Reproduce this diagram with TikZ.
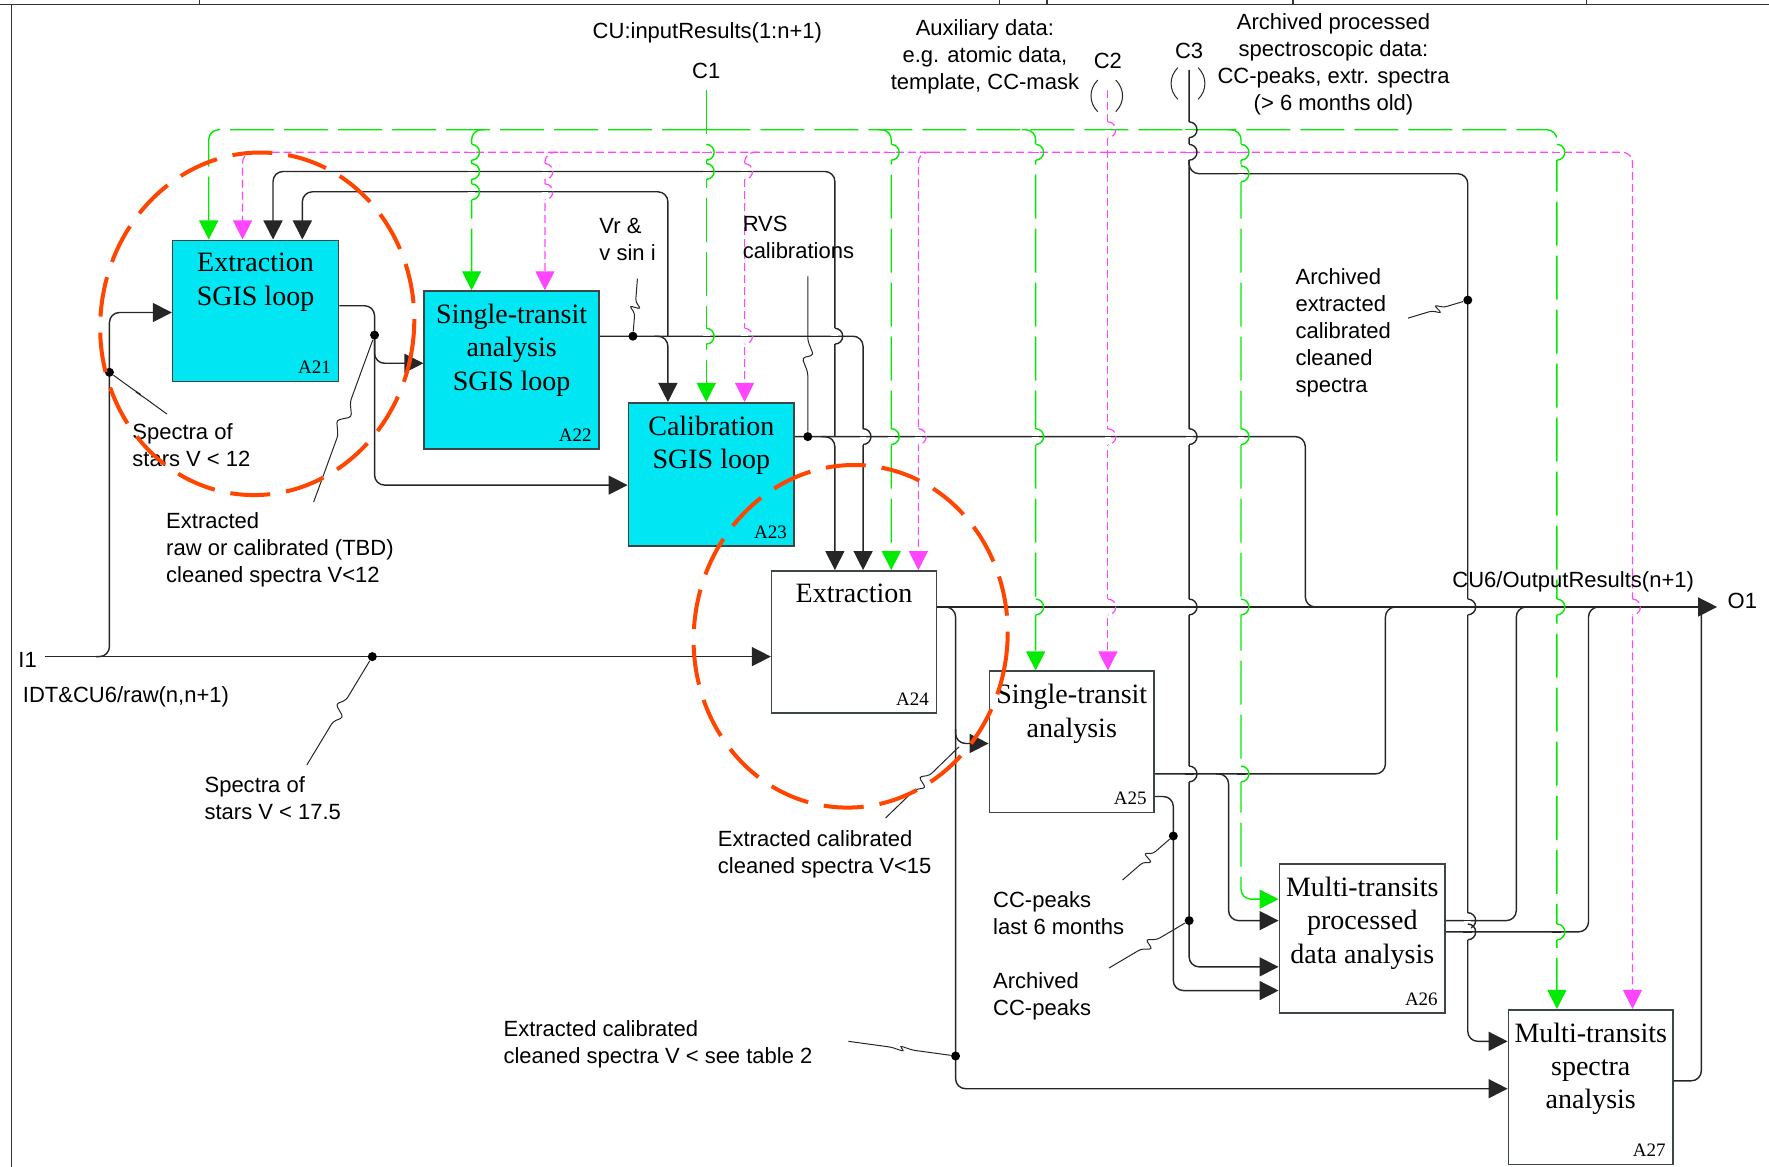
\documentclass[tikz,border=0pt]{standalone}
\usepackage{fontspec}
\setmainfont{Liberation Serif}
\setsansfont{Liberation Sans}
\usetikzlibrary{arrows.meta,calc,fit}
\definecolor{boxcyan}{RGB}{0,230,242}
\definecolor{ctlgreen}{RGB}{0,235,0}
\definecolor{ctlmag}{RGB}{255,70,255}
\definecolor{ringred}{RGB}{255,69,0}
\definecolor{boxedge}{RGB}{60,70,70}
\tikzset{
  % frame and boxes
  frame/.style    = {draw=black!80, line width=0.6pt},
  actbox/.style   = {draw=boxedge, line width=0.8pt, inner sep=0pt},
  sgisbox/.style  = {actbox, fill=boxcyan},
  plainbox/.style = {actbox, fill=white},
  boxtxt/.style   = {font=\fontsize{14}{16.6}\selectfont, align=center, anchor=north, inner sep=0pt},
  boxid/.style    = {font=\fontsize{9.5}{11}\selectfont, anchor=south east, inner sep=0pt},
  % connectors
  flow/.style     = {draw=black!85, line width=0.7pt, rounded corners=5pt},
  ctlg/.style     = {draw=ctlgreen, line width=0.7pt, dash pattern=on 22pt off 5pt, rounded corners=5pt},
  ctlm/.style     = {draw=ctlmag, line width=0.6pt, dash pattern=on 4pt off 2pt, rounded corners=5pt},
  tip/.style      = {-{Triangle[length=9.5pt,width=9.5pt]}},
  callout/.style  = {draw=black!85, line width=0.5pt, rounded corners=1.5pt},
  dotpt/.style    = {circle, fill=black, inner sep=0pt, minimum size=4.5pt},
  % labels
  lab/.style      = {font=\sffamily\fontsize{11}{13.5}\selectfont, align=left, anchor=north west, inner sep=0pt},
  labc/.style     = {font=\sffamily\fontsize{11}{13.5}\selectfont, align=center, anchor=north, inner sep=0pt},
  ring/.style     = {draw=ringred, line width=2pt, dash pattern=on 20pt off 8pt},
}
% vertical line hopping over a horizontal one
\newcommand{\hop}[4]{%
  \fill[white] (#1-3,#2-7) rectangle (#1+3,#2+7);
  \draw[#4, rounded corners=0pt] (#1-4,#2) -- (#1+4,#2);
  \draw[#3, rounded corners=0pt] (#1,#2-7) arc[start angle=-90, end angle=90, radius=7];}
% squiggly callout
\newcommand{\callout}[2]{%
  \draw[callout] (#1) -- ($(#1)!0.4!(#2)$) -- ($(#1)!0.47!(#2)+(5,3)$)
    -- ($(#1)!0.53!(#2)+(-5,-3)$) -- ($(#1)!0.6!(#2)$) -- (#2);}
\begin{document}
\begin{tikzpicture}[x=0.564pt, y=-0.564pt]
  \useasboundingbox (0,0) rectangle (1568,1034);
  % form frame
  \draw[frame] (0,4) -- (1568,4);
  \draw[frame] (10,4) -- (10,1034);
  \foreach \x in {177,886,928,1146,1406} \draw[frame] (\x,0) -- (\x,4);

  % activity boxes
  \node[sgisbox, fit={(153,213) (300,338)}] (A21) {};
  \node[sgisbox, fit={(376,258) (531,398)}] (A22) {};
  \node[sgisbox, fit={(557,357) (704,484)}] (A23) {};
  \node[plainbox, fit={(684,506) (830,632)}] (A24) {};
  \node[plainbox, fit={(877,595) (1023,720)}] (A25) {};
  \node[plainbox, fit={(1134,766) (1281,898)}] (A26) {};
  \node[plainbox, fit={(1337,895) (1483,1032)}] (A27) {};
  \node[boxtxt] (A21t) at ($(A21.north)+(0,12)$) {Extraction\\SGIS loop};
  \node[boxtxt] (A22t) at ($(A22.north)+(0,12)$) {Single-transit\\analysis\\SGIS loop};
  \node[boxtxt] (A23t) at ($(A23.north)+(0,12)$) {Calibration\\SGIS loop};
  \node[boxtxt] (A24t) at ($(A24.north)+(0,12)$) {Extraction};
  \node[boxtxt] (A25t) at ($(A25.north)+(0,12)$) {Single-transit\\analysis};
  \node[boxtxt] (A26t) at ($(A26.north)+(0,12)$) {Multi-transits\\processed\\data analysis};
  \node[boxtxt] (A27t) at ($(A27.north)+(0,12)$) {Multi-transits\\spectra\\analysis};
  \foreach \b in {A21,A22,A23,A24,A25,A26,A27}
    \node[boxid] (\b id) at ($(\b.south east)+(-7,-7)$) {\b};

  % C1 controls (green)
  \draw[ctlg, tip] (626,80) -- (626,0 |- A23.north);
  \draw[ctlg, tip] (626,115) -| (185,0 |- A21.north);
  \draw[ctlg, tip] (626,115) -| (1380,0 |- A27.north);
  \draw[ctlg, tip] (430,115) -| (418,0 |- A22.north);
  \draw[ctlg, tip] (778,115) -| (790,0 |- A24.north);
  \draw[ctlg, tip] (906,115) -| (918,0 |- A25.north);
  \draw[ctlg, tip] (1088,115) -| (1100,797) -- (A26.west |- 0,797);

  % C2 controls (magenta)
  \draw[ctlm, tip] (982,80) -- (982,0 |- A25.north);
  \draw[ctlm, tip] (982,135) -| (215,0 |- A21.north);
  \draw[ctlm, tip] (982,135) -| (1447,0 |- A27.north);
  \draw[ctlm, tip] (495,135) -| (483,0 |- A22.north);
  \draw[ctlm, tip] (672,135) -| (660,0 |- A23.north);
  \draw[ctlm, tip] (826,135) -| (814,0 |- A24.north);
  \draw[flow, rounded corners=0pt, line width=0.5pt] (973,71) .. controls (965,79) and (965,91) .. (973,99);
  \draw[flow, rounded corners=0pt, line width=0.5pt] (989,71) .. controls (997,79) and (997,91) .. (989,99);

  % C3 archived data
  \draw[flow, tip] (1054,62) |- (A26.west |- 0,857);
  \draw[flow, tip] (1054,138) |- (1301,154) |- (A27.west |- 0,923);
  \draw[flow, rounded corners=0pt, line width=0.5pt] (1044,60) .. controls (1036,68) and (1036,80) .. (1044,88);
  \draw[flow, rounded corners=0pt, line width=0.5pt] (1062,60) .. controls (1070,68) and (1070,80) .. (1062,88);

  % inputs I1
  \draw[flow, tip] (40,582) -- (A24.west |- 0,582);
  \draw[flow, tip] (85,582) -| (97,277) -- (A21.west |- 0,277);

  % A21 outputs
  \draw[flow, tip] (A21.east |- 0,271) -| (332,322) -- (A22.west |- 0,322);
  \draw[flow, tip] (332,300) |- (A23.west |- 0,430);

  % A22 outputs (Vr & v sin i)
  \draw[flow, tip] (A22.east |- 0,298) -| (765,0 |- A24.north);
  \draw[flow, tip] (592,298) |- (268,170) -- (268,0 |- A21.north);
  \draw[flow, tip] (580,298) -| (592,0 |- A23.north);

  % A23 outputs (RVS calibrations)
  \draw[flow] (A23.east |- 0,387) -| (1157,538) -- (1172,538);
  \draw[flow, tip] (740,387) |- (242,152) -- (242,0 |- A21.north);
  \draw[flow, tip] (728,387) -| (740,0 |- A24.north);

  % A24 outputs
  \coordinate (O1) at (1522,538);
  \draw[flow, tip] (A24.east |- 0,538) -- (O1);
  \draw[flow, tip] (835,538) -| (847,965) -- (A27.west |- 0,965);
  \draw[flow, tip] (847,646) |- (A25.west |- 0,659);

  % A25 outputs
  \draw[flow] (A25.east |- 0,686) -| (1228,538) -- (1240,538);
  \draw[flow, tip] (1078,686) -| (1089,816) -- (A26.west |- 0,816);
  \draw[flow, tip] (A25.east |- 0,706) -| (1040,878) -- (A26.west |- 0,878);

  % A26 and A27 outputs
  \draw[flow] (A26.east |- 0,816) -| (1344,538) -- (1356,538);
  \draw[flow] (A26.east |- 0,826) -| (1408,538) -- (1420,538);
  \draw[flow] (A27.east |- 0,958) -| (1508,538);

  % hops
  \foreach \x/\s in {982/ctlm,1054/flow} \hop{\x}{115}{\s}{ctlg};
  \foreach \x/\s in {418/ctlg,626/ctlg,790/ctlg,918/ctlg,1054/flow,1100/ctlg,1380/ctlg} \hop{\x}{135}{\s}{ctlm};
  \foreach \x/\s in {418/ctlg,483/ctlm,626/ctlg,660/ctlm} \hop{\x}{152}{\s}{flow};
  \foreach \x/\s in {418/ctlg,483/ctlm} \hop{\x}{170}{\s}{flow};
  \hop{1100}{154}{ctlg}{flow};
  \foreach \x/\s in {626/ctlg,660/ctlm,740/flow} \hop{\x}{298}{\s}{flow};
  \foreach \x/\s in {765/flow,790/ctlg,814/ctlm,918/ctlg,982/ctlm,1054/flow,1100/ctlg} \hop{\x}{387}{\s}{flow};
  \foreach \x/\s in {918/ctlg,982/ctlm,1054/flow,1100/ctlg,1301/flow,1380/ctlg,1447/ctlm} \hop{\x}{538}{\s}{flow};
  \foreach \x/\s in {1054/flow,1100/ctlg} \hop{\x}{686}{\s}{flow};
  \hop{1301}{816}{flow}{flow};
  \foreach \x/\s in {1301/flow,1380/ctlg} \hop{\x}{826}{\s}{flow};

  % branch dots
  \node[dotpt] (d1) at (97,330) {};
  \node[dotpt] (d2) at (332,297) {};
  \node[dotpt] (d3) at (561,298) {};
  \node[dotpt] (d4) at (716,387) {};
  \node[dotpt] (d5) at (1301,266) {};
  \node[dotpt] (d6) at (330,582) {};
  \node[dotpt] (d7) at (1040,741) {};
  \node[dotpt] (d8) at (1054,816) {};
  \node[dotpt] (d9) at (847,936) {};

  % labels
  \node[labc] (cuin) at (627,20) {CU:inputResults(1:n+1)};
  \node[labc] (c1) at (626,56) {C1};
  \node[labc] (aux) at (873,17) {Auxiliary data:\\e.g. atomic data,\\template, CC-mask};
  \node[labc] (c2) at (982,47) {C2};
  \node[labc] (c3) at (1054,38) {C3};
  \node[labc] (arcp) at (1182,12) {Archived processed\\spectroscopic data:\\CC-peaks, extr. spectra\\(> 6 months old)};
  \node[lab] (vr) at (531,193) {Vr \&\\v sin i};
  \node[lab] (rvs) at (658,191) {RVS\\calibrations};
  \node[lab] (arce) at (1148,238) {Archived\\extracted\\calibrated\\cleaned\\spectra};
  \node[lab] (sp12) at (117,375) {Spectra of\\stars V < 12};
  \node[lab] (ext12) at (147,454) {Extracted\\raw or calibrated (TBD)\\cleaned spectra V<12};
  \node[lab] (i1) at (16,578) {I1};
  \node[lab] (idt) at (20,608) {IDT\&CU6/raw(n,n+1)};
  \node[lab] (sp175) at (181,688) {Spectra of\\stars V < 17.5};
  \node[lab] (ext15) at (636,736) {Extracted calibrated\\cleaned spectra V<15};
  \node[lab] (cu6out) at (1287,506) {CU6/OutputResults(n+1)};
  \node[lab] (o1) at (1531,525) {O1};
  \node[lab] (ccp6) at (880,790) {CC-peaks\\last 6 months};
  \node[lab] (arcc) at (880,862) {Archived\\CC-peaks};
  \node[lab] (extt2) at (446,904) {Extracted calibrated\\cleaned spectra V < see table 2};

  % callouts
  \callout{d1}{148,367}
  \callout{d2}{278,445}
  \callout{565,247}{d3}
  \callout{716,245}{d4}
  \callout{1248,282}{d5}
  \callout{272,678}{d6}
  \callout{785,725}{850,662}
  \callout{995,780}{d7}
  \callout{983,858}{d8}
  \callout{752,923}{d9}

  % highlighted regions
  \draw[ring, rotate around={-7:(228,287)}] (228,287) ellipse [x radius=139, y radius=152];
  \draw[ring, rotate around={-7:(754,564)}] (754,564) ellipse [x radius=139, y radius=152];
\end{tikzpicture}
\end{document}
